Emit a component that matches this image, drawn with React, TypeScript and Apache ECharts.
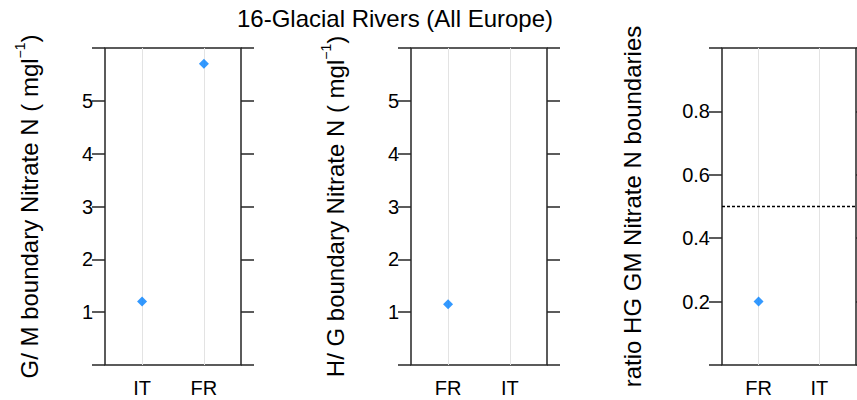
import React, { useEffect, useRef } from "react";
import * as echarts from "echarts";

const titleText = "16-Glacial Rivers (All Europe)";

const catsGM = ["IT", "FR"];
const valsGM = [1.2, 5.7];

const catsHG = ["FR", "IT"];
const valsHG = [1.15, null];

const catsRatio = ["FR", "IT"];
const valsRatio = [0.2, null];
const ratioRef = 0.5;

const yNames = [
  "{t|G/ M boundary Nitrate N ( mgl}{s|−1}{t|)}",
  "{t|H/ G boundary Nitrate N ( mgl}{s|−1}{t|)}",
  "{t|ratio HG GM Nitrate N boundaries}",
];

const FONT = "'Liberation Sans', Arial, sans-serif";
const BLUE = "#0080FF";
const LINE = "#262626";

export default function App() {
  const ref = useRef<HTMLDivElement>(null);
  useEffect(() => {
    document.body.style.margin = "0";
    const chart = echarts.init(ref.current!, null, { renderer: "svg" });
    const grids = [
      { left: 105, top: 48, width: 136, height: 317 },
      { left: 411, top: 48, width: 136, height: 317 },
      { left: 722, top: 48, width: 134, height: 317 },
    ];
    const catsList = [catsGM, catsHG, catsRatio];
    const valsList = [valsGM, valsHG, valsRatio];
    const rich = {
      t: { fontSize: 24, fontFamily: FONT, color: "#000", verticalAlign: "bottom", lineHeight: 28 },
      s: { fontSize: 14, fontFamily: FONT, color: "#000", verticalAlign: "top", lineHeight: 28 },
    };
    const xAxis = catsList.map((cats, i) => ({
      type: "value",
      gridIndex: i,
      min: 0.4,
      max: 2.6,
      axisLine: { show: false },
      axisTick: { show: false },
      splitLine: { show: false },
      axisLabel: {
        customValues: cats.map((_, k) => k + 1),
        formatter: (v: number) => cats[Math.round(v) - 1] ?? "",
        fontSize: 20,
        fontFamily: FONT,
        color: "#000",
        margin: 13,
      },
    }));
    const yAxis: any[] = [];
    [0, 1, 2].forEach((i) => {
      const isRatio = i === 2;
      const common = {
        type: "value",
        gridIndex: i,
        min: 0,
        max: isRatio ? 1 : 6,
        interval: isRatio ? 0.2 : 1,
        axisLine: { show: false },
        splitLine: { show: false },
        axisTick: { show: true, inside: false, length: 13, lineStyle: { color: LINE, width: 1.5 } },
      };
      yAxis.push({
        ...common,
        position: "left",
        name: yNames[i],
        nameLocation: "middle",
        nameRotate: 90,
        nameGap: isRatio ? 78 : 64,
        nameTextStyle: { rich },
        axisLabel: {
          fontSize: 20,
          fontFamily: FONT,
          color: "#000",
          margin: 12,
          formatter: (v: number) => {
            const mx = isRatio ? 1 : 6;
            if (v <= 1e-6 || v >= mx - 1e-6) return "";
            return isRatio ? v.toFixed(1) : String(Math.round(v));
          },
        },
      });
      yAxis.push({
        ...common,
        position: "right",
        axisLabel: { show: false },
      });
    });
    const series: any[] = [];
    [0, 1, 2].forEach((i) => {
      const cats = catsList[i];
      const vals = valsList[i];
      series.push({
        type: "scatter",
        xAxisIndex: i,
        yAxisIndex: i * 2,
        data: [],
        silent: true,
        z: 1,
        markLine: {
          silent: true,
          symbol: "none",
          label: { show: false },
          lineStyle: { color: "#e3e3e3", type: "solid", width: 1 },
          data: cats.map((_, k) => ({ xAxis: k + 1 })),
        },
      });
      if (i === 2) {
        series.push({
          type: "scatter",
          xAxisIndex: i,
          yAxisIndex: i * 2,
          data: [],
          silent: true,
          z: 2,
          markLine: {
            silent: true,
            symbol: "none",
            label: { show: false },
            lineStyle: { color: "#000", type: [3, 2], width: 1.3 },
            data: [{ yAxis: ratioRef }],
          },
        });
      }
      series.push({
        type: "scatter",
        xAxisIndex: i,
        yAxisIndex: i * 2,
        symbol: "diamond",
        symbolSize: 10,
        z: 5,
        itemStyle: { color: BLUE },
        data: vals
          .map((v, k) => (v == null ? null : [k + 1, v]))
          .filter((d) => d !== null),
      });
    });
    chart.setOption({
      animation: false,
      backgroundColor: "#fff",
      grid: grids.map((g) => ({ ...g, show: true, borderColor: LINE, borderWidth: 1.5, backgroundColor: "transparent" })),
      xAxis,
      yAxis,
      series,
      graphic: [
        {
          type: "text",
          x: 395,
          y: 6,
          style: {
            text: titleText,
            fontSize: 24,
            fontFamily: FONT,
            fill: "#000",
            textAlign: "center",
            textVerticalAlign: "top",
          },
        },
      ],
    });
    return () => chart.dispose();
  }, []);
  return <div ref={ref} style={{ width: 857, height: 400 }} />;
}
